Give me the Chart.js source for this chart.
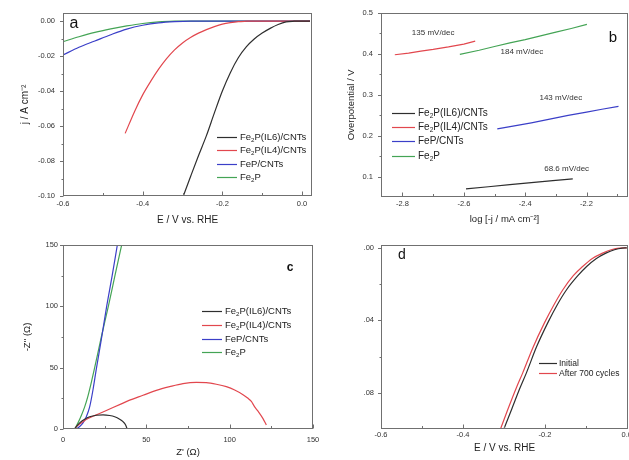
<!DOCTYPE html>
<html><head><meta charset="utf-8">
<script src="https://cdn.jsdelivr.net/npm/chart.js@4.4.1/dist/chart.umd.min.js"></script>
<style>
html,body{margin:0;padding:0;background:#fff;}
body{width:629px;height:460px;position:relative;overflow:hidden;}
.p{position:absolute;overflow:hidden;}
canvas{display:block;}
</style></head><body>
<div class="p" style="left:0;top:0;width:320px;height:230px"><canvas id="ca" width="320" height="230"></canvas></div>
<div class="p" style="left:320px;top:0;width:309px;height:230px"><canvas id="cb" width="309" height="230"></canvas></div>
<div class="p" style="left:0;top:230px;width:340px;height:230px"><canvas id="cc" width="340" height="230"></canvas></div>
<div class="p" style="left:362px;top:230px;width:267px;height:230px"><canvas id="cd" width="290" height="230"></canvas></div>
<script>
// ---------- series names ----------
const seriesNames = ['Fe₂P(IL6)/CNTs', 'Fe₂P(IL4)/CNTs', 'FeP/CNTs', 'Fe₂P'];
const stabilityNames = ['Initial', 'After 700 cycles'];

// ---------- panel a : polarization curves (E vs RHE, j in A cm-2) ----------
const aE_IL6 = [-0.300,-0.28,-0.26,-0.24,-0.22,-0.20,-0.18,-0.16,-0.14,-0.12,-0.10,-0.08,-0.06,-0.04,-0.02,0.00,0.02];
const aJ_IL6 = [-0.1012,-0.089,-0.077,-0.0655,-0.0525,-0.040,-0.0295,-0.021,-0.0148,-0.0103,-0.0069,-0.0042,-0.0020,-0.0005,-0.0001,0,0];
const aE_IL4 = [-0.444,-0.42,-0.40,-0.38,-0.36,-0.34,-0.32,-0.30,-0.28,-0.26,-0.24,-0.22,-0.20,-0.18,-0.16,-0.14,-0.12,0.02];
const aJ_IL4 = [-0.0642,-0.0515,-0.0422,-0.0345,-0.0275,-0.0215,-0.0165,-0.0125,-0.0094,-0.0069,-0.0049,-0.0032,-0.0018,-0.0009,-0.0003,-0.0001,0,0];
const aE_FeP = [-0.60,-0.56,-0.52,-0.48,-0.44,-0.40,-0.36,-0.32,-0.28,0.02];
const aJ_FeP = [-0.0194,-0.0150,-0.0114,-0.0078,-0.0046,-0.0024,-0.0010,-0.0003,0,0];
const aE_Fe2P = [-0.60,-0.56,-0.52,-0.48,-0.44,-0.40,-0.36,-0.32,-0.28,0.02];
const aJ_Fe2P = [-0.0118,-0.0090,-0.0065,-0.0045,-0.0028,-0.0014,-0.0005,-0.0001,0,0];
const aXTicks = [-0.6,-0.4,-0.2,0.0];
const aYTicks = [0,-0.02,-0.04,-0.06,-0.08,-0.10];

// ---------- panel b : Tafel plots ----------
const bLog_IL6 = [-2.593,-2.52,-2.45,-2.38,-2.31,-2.245];
const bEta_IL6 = [0.070,0.075,0.080,0.085,0.090,0.094];
const bLog_IL4 = [-2.825,-2.78,-2.74,-2.70,-2.65,-2.60,-2.563];
const bEta_IL4 = [0.397,0.401,0.406,0.410,0.416,0.423,0.430];
const bLog_FeP = [-2.491,-2.44,-2.38,-2.32,-2.26,-2.20,-2.15,-2.096];
const bEta_FeP = [0.216,0.223,0.231,0.240,0.249,0.257,0.264,0.271];
const bLog_Fe2P = [-2.613,-2.55,-2.50,-2.45,-2.40,-2.35,-2.30,-2.25,-2.199];
const bEta_Fe2P = [0.398,0.408,0.417,0.426,0.434,0.443,0.452,0.461,0.471];
const tafelText = ['135 mV/dec','184 mV/dec','143 mV/dec','68.6 mV/dec'];
const tafelTextLog = [-2.70,-2.411,-2.284,-2.265];
const tafelTextEta = [0.451,0.405,0.293,0.1195];
const bXTicks = [-2.8,-2.6,-2.4,-2.2];
const bYTicks = [0.1,0.2,0.3,0.4,0.5];

// ---------- panel c : Nyquist plots ----------
const cRe_IL6 = [7,8,10,13,16,20,24,28,31,34,36,37.5,38.5];
const cIm_IL6 = [0,2,5,8,10,11.2,11.5,11,10,8,6,3.5,0];
const cRe_IL4 = [7,8,10,12,15,20,25,30,35,40,48,56,64,72,80,86,92,98,103,108,111,113,115,117,120,122];
const cIm_IL4 = [0,1.8,4,6,8.5,11.5,14.5,17.5,20.5,23.5,27.5,31.5,34.5,37,38,37.8,36.5,34.5,31.8,28,25,22.5,18,14.5,8.5,3.3];
const cRe_FeP = [8,10,12,14,16,18,20,23,26.2,29.5,32.6,34];
const cIm_FeP = [0,2,5,10,18,32,49,73,100,125,150,161];
const cRe_Fe2P = [7,9,11,13,15,17,19,23,27.2,31,35.2,36.5];
const cIm_Fe2P = [0,5,11,18,27,38,50,75,100,124,150,158];
const cTicks = [0,50,100,150];

// ---------- panel d : stability ----------
const dE_init = [-0.306,-0.28,-0.26,-0.245,-0.22,-0.193,-0.17,-0.147,-0.12,-0.098,-0.075,-0.051,-0.03,-0.011,0.0];
const dJ_init = [-0.1035,-0.0885,-0.077,-0.069,-0.0545,-0.0414,-0.0315,-0.0231,-0.0155,-0.0103,-0.0060,-0.0029,-0.0010,-0.0001,0];
const dE_700 = [-0.314,-0.29,-0.27,-0.254,-0.23,-0.201,-0.178,-0.156,-0.13,-0.108,-0.084,-0.059,-0.038,-0.018,0.0];
const dJ_700 = [-0.1035,-0.089,-0.0775,-0.069,-0.0555,-0.0414,-0.0315,-0.0231,-0.0152,-0.0103,-0.0058,-0.0029,-0.0010,-0.0001,0];
const dXTicks = [-0.6,-0.4,-0.2,0.0];
const dYTicks = [0,-0.04,-0.08];

// ---------- styling ----------
const FONT = "'Liberation Sans', Arial, Helvetica, sans-serif";
Chart.defaults.font.family = FONT;
const COL = {k:'#2e2e2e', r:'#e2474e', b:'#3b3fc8', g:'#44a455'};
const FRAME = '#707070';

function pts(xs, ys){ return xs.map((x,i)=>({x:x, y:ys[i]})); }
function ds(label, xs, ys, color, smooth){
  return {label, data: pts(xs, ys), borderColor: color, backgroundColor: color,
    borderWidth: 1.2, pointRadius: 0, pointHoverRadius: 0, fill: false,
    tension: 0, cubicInterpolationMode: smooth ? 'monotone' : 'default'};
}
function axis(o){
  return {
    type:'linear', position:o.pos, min:o.min, max:o.max,
    afterBuildTicks: s => { s.ticks = o.ticks.map(v => ({value:v})); },
    afterFit: s => { if (o.pos === 'bottom') s.height = o.size; else s.width = o.size; },
    grid:{display:false, drawTicks:false}, border:{display:false},
    ticks:{autoSkip:false, maxRotation:0, minRotation:0, padding:o.pad, color:'#333',
      font:{size:7.5}, callback: v => o.fmt(v)},
    title: o.title ? {display:true, text:o.title, color:'#222', font:{size:o.tsize || 10}, padding:o.tpad}
                   : {display:false}
  };
}

// rich text: handles subscript ₂
function runsOf(text){
  const runs = [];
  for (const ch of text){
    const sub = ch === '₂';
    const t = sub ? '2' : ch;
    const last = runs[runs.length-1];
    if (last && last.sub === sub) last.t += t; else runs.push({t, sub});
  }
  return runs;
}
function drawRich(ctx, text, x, y, size, color, align, weight){
  const runs = runsOf(text);
  const w8 = weight || 'normal';
  let total = 0;
  for (const r of runs){
    ctx.font = w8 + ' ' + (r.sub ? size*0.65 : size) + 'px ' + FONT;
    r.w = ctx.measureText(r.t).width; total += r.w;
  }
  let cx = align === 'center' ? x - total/2 : (align === 'right' ? x - total : x);
  ctx.fillStyle = color; ctx.textBaseline = 'middle'; ctx.textAlign = 'left';
  for (const r of runs){
    ctx.font = w8 + ' ' + (r.sub ? size*0.65 : size) + 'px ' + FONT;
    ctx.fillText(r.t, cx, r.sub ? y + size*0.28 : y);
    cx += r.w;
  }
}

function minorsOf(ticks, min, max){
  const s = [...ticks].sort((a,b)=>a-b);
  const step = s[1]-s[0];
  const out = [];
  const cand = s.map(v => v - step/2).concat([s[s.length-1] + step/2]);
  for (const v of cand) if (v > min + 1e-9 && v < max - 1e-9) out.push(v);
  return out;
}

const deco = {
  id:'deco',
  afterDatasetsDraw(chart, args, opts){
    const ctx = chart.ctx, a = chart.chartArea;
    const xs = chart.scales.x, ys = chart.scales.y;
    ctx.save();
    // frame
    ctx.strokeStyle = FRAME; ctx.lineWidth = 1;
    ctx.strokeRect(Math.round(a.left)+0.5, Math.round(a.top)+0.5,
                   Math.round(a.right)-Math.round(a.left)-1, Math.round(a.bottom)-Math.round(a.top)-1);
    // ticks: bottom inward, left outward
    const bx = Math.round(a.bottom)-0.5, lx = Math.round(a.left)+0.5;
    ctx.beginPath();
    xs.ticks.forEach(t => { const p = Math.round(xs.getPixelForValue(t.value))+0.5; ctx.moveTo(p,bx); ctx.lineTo(p,bx-4); });
    minorsOf(xs.ticks.map(t=>t.value), xs.min, xs.max).forEach(v => { const p = Math.round(xs.getPixelForValue(v))+0.5; ctx.moveTo(p,bx); ctx.lineTo(p,bx-2.5); });
    ys.ticks.forEach(t => { const p = Math.round(ys.getPixelForValue(t.value))+0.5; ctx.moveTo(lx,p); ctx.lineTo(lx-3.5,p); });
    minorsOf(ys.ticks.map(t=>t.value), ys.min, ys.max).forEach(v => { const p = Math.round(ys.getPixelForValue(v))+0.5; ctx.moveTo(lx,p); ctx.lineTo(lx-2,p); });
    ctx.stroke();
    // panel letter
    if (opts.letter){
      const L = opts.letter;
      drawRich(ctx, L.text, L.x, L.y, L.size, '#111', 'center', L.weight);
    }
    // legend
    if (opts.legend){
      const g = opts.legend;
      chart.data.datasets.forEach((d,i) => {
        const y = Math.round(g.y + i*g.dy) + 0.5;
        ctx.strokeStyle = d.borderColor; ctx.lineWidth = 1.2;
        ctx.beginPath(); ctx.moveTo(g.x, y); ctx.lineTo(g.x + g.len, y); ctx.stroke();
        drawRich(ctx, d.label, g.x + g.len + g.gap, y, g.size, '#222', 'left');
      });
    }
    // notes in data coordinates
    if (opts.notes){
      opts.notes.forEach(n => {
        drawRich(ctx, n.text, xs.getPixelForValue(n.x), ys.getPixelForValue(n.y), n.size, '#333', 'center');
      });
    }
    ctx.restore();
  }
};

function base(padTop, padRight){
  return {responsive:false, animation:false, events:[],
    layout:{padding:{left:0, top:padTop, right:padRight, bottom:0}},
    plugins:{legend:{display:false}, tooltip:{enabled:false}}};
}

// ---------- chart a ----------
{
  const o = base(13, 8);
  o.scales = {
    x: axis({pos:'bottom', min:-0.6, max:0.025, ticks:aXTicks, size:34, pad:3, fmt:v=>v.toFixed(1),
             title:'E / V vs. RHE', tsize:10, tpad:{top:0,bottom:4}}),
    y: axis({pos:'left', min:-0.10, max:0.0046, ticks:aYTicks, size:63, pad:8, fmt:v=>(Math.abs(v)<1e-9?0:v).toFixed(2),
             title:'j / A cm⁻²', tsize:10, tpad:{top:19,bottom:0}})
  };
  o.plugins.deco = {
    letter:{text:'a', x:74, y:24, size:16},
    legend:{x:217, y:137, dy:13.4, len:20, gap:3, size:9.5}
  };
  new Chart(document.getElementById('ca'), {type:'line', data:{datasets:[
    ds(seriesNames[0], aE_IL6, aJ_IL6, COL.k, true),
    ds(seriesNames[1], aE_IL4, aJ_IL4, COL.r, true),
    ds(seriesNames[2], aE_FeP, aJ_FeP, COL.b, true),
    ds(seriesNames[3], aE_Fe2P, aJ_Fe2P, COL.g, true)
  ]}, options:o, plugins:[deco]});
}

// ---------- chart b ----------
{
  const o = base(12, 1);
  o.scales = {
    x: axis({pos:'bottom', min:-2.87, max:-2.065, ticks:bXTicks, size:33, pad:2.5, fmt:v=>v.toFixed(1),
             title:'log [-j / mA cm⁻²]', tsize:9.5, tpad:{top:0,bottom:5}}),
    y: axis({pos:'left', min:0.05, max:0.5, ticks:bYTicks, size:61, pad:8, fmt:v=>v.toFixed(1),
             title:'Overpotential / V', tsize:9.5, tpad:{top:26,bottom:0}})
  };
  o.plugins.deco = {
    letter:{text:'b', x:293, y:38, size:15},
    legend:{x:72, y:113, dy:14.2, len:23, gap:3, size:10},
    notes: tafelText.map((t,i)=>({text:t, x:tafelTextLog[i], y:tafelTextEta[i], size:8}))
  };
  new Chart(document.getElementById('cb'), {type:'line', data:{datasets:[
    ds(seriesNames[0], bLog_IL6, bEta_IL6, COL.k, false),
    ds(seriesNames[1], bLog_IL4, bEta_IL4, COL.r, false),
    ds(seriesNames[2], bLog_FeP, bEta_FeP, COL.b, false),
    ds(seriesNames[3], bLog_Fe2P, bEta_Fe2P, COL.g, false)
  ]}, options:o, plugins:[deco]});
}

// ---------- chart c ----------
{
  const o = base(15, 27);
  o.scales = {
    x: axis({pos:'bottom', min:0, max:150, ticks:cTicks, size:31, pad:6, fmt:v=>String(v),
             title:"Z' (Ω)", tsize:9.5, tpad:{top:0,bottom:2}}),
    y: axis({pos:'left', min:0, max:150, ticks:cTicks, size:63, pad:5, fmt:v=>String(v),
             title:"-Z'' (Ω)", tsize:9.5, tpad:{top:22,bottom:0}})
  };
  o.plugins.deco = {
    letter:{text:'c', x:290, y:38, size:12, weight:'bold'},
    legend:{x:202, y:81, dy:13.8, len:20, gap:3, size:9.5}
  };
  new Chart(document.getElementById('cc'), {type:'line', data:{datasets:[
    ds(seriesNames[0], cRe_IL6, cIm_IL6, COL.k, true),
    ds(seriesNames[1], cRe_IL4, cIm_IL4, COL.r, true),
    ds(seriesNames[2], cRe_FeP, cIm_FeP, COL.b, true),
    ds(seriesNames[3], cRe_Fe2P, cIm_Fe2P, COL.g, true)
  ]}, options:o, plugins:[deco]});
}

// ---------- chart d ----------
{
  const o = base(15, 24);
  o.scales = {
    x: axis({pos:'bottom', min:-0.6, max:0.003, ticks:dXTicks, size:31, pad:1, fmt:v=>v.toFixed(1),
             title:'E / V vs. RHE', tsize:10, tpad:{top:0,bottom:6}}),
    y: axis({pos:'left', min:-0.10, max:0.0016, ticks:dYTicks, size:19, pad:7, fmt:v=>Math.abs(v).toFixed(2).slice(1)})
  };
  o.plugins.deco = {
    letter:{text:'d', x:40, y:25, size:14},
    legend:{x:177, y:133, dy:10.3, len:18, gap:2, size:8.5}
  };
  new Chart(document.getElementById('cd'), {type:'line', data:{datasets:[
    ds(stabilityNames[0], dE_init, dJ_init, COL.k, true),
    ds(stabilityNames[1], dE_700, dJ_700, COL.r, true)
  ]}, options:o, plugins:[deco]});
}
</script>
</body></html>
